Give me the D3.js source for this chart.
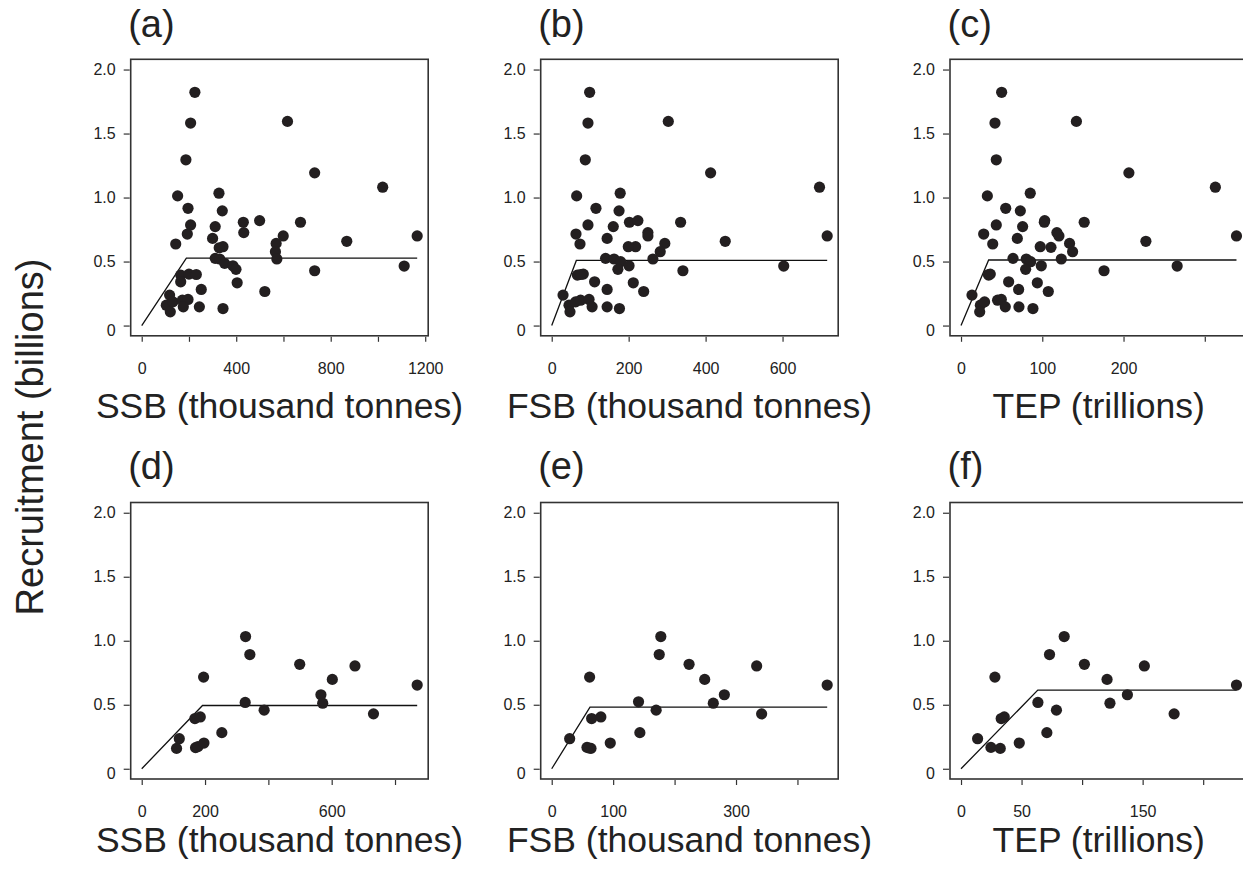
<!DOCTYPE html>
<html><head><meta charset="utf-8">
<script src="https://cdn.jsdelivr.net/npm/d3@7"></script>
<style>
html,body{margin:0;padding:0;background:#fff;}
svg{display:block;font-family:"Liberation Sans",Arial,Helvetica,sans-serif;}
</style></head>
<body>
<svg id="chart" width="1243" height="869"></svg>
<script>
// ---- Data ----
const panelLabels = ["(a)","(b)","(c)","(d)","(e)","(f)"];
const xTitles = ["SSB (thousand tonnes)","FSB (thousand tonnes)","TEP (trillions)",
                 "SSB (thousand tonnes)","FSB (thousand tonnes)","TEP (trillions)"];
const yTitle = "Recruitment (billions)";
const yTicks = [0,0.5,1.0,1.5,2.0];
const yTickLabels = ["0","0.5","1.0","1.5","2.0"];

const xA = [225,207,617,187,732,1020,152,327,196,341,430,499,207,311,672,193,432,300,599,1166,868,144,344,328,569,566,572,311,330,351,386,399,732,1111,165,200,231,165,404,252,521,118,104,132,172,196,176,244,344,121];
const yA = [1.822,1.582,1.595,1.295,1.193,1.081,1.013,1.034,0.916,0.896,0.807,0.820,0.786,0.773,0.807,0.715,0.726,0.681,0.700,0.700,0.658,0.637,0.616,0.608,0.642,0.577,0.520,0.525,0.520,0.486,0.467,0.439,0.428,0.465,0.394,0.402,0.399,0.342,0.334,0.282,0.266,0.238,0.159,0.185,0.198,0.204,0.146,0.146,0.133,0.107];

const xB = [98.6,94.2,303,87.3,413,696,64.8,178,115,175,202,224,94.2,160,335,63.1,250,144,250,716,451,73.5,218,199,294,282,263,140,162,179,201,172,341,603,66.6,82.1,75,111.5,212,144,239,29.4,45,62,75,97,105,144,176,47.5];
const yB = [1.822,1.582,1.595,1.295,1.193,1.081,1.013,1.034,0.916,0.896,0.807,0.820,0.786,0.773,0.807,0.715,0.726,0.681,0.700,0.700,0.658,0.637,0.616,0.616,0.642,0.577,0.520,0.525,0.520,0.499,0.467,0.439,0.428,0.465,0.394,0.402,0.399,0.342,0.334,0.282,0.266,0.238,0.159,0.185,0.198,0.204,0.146,0.146,0.133,0.107];

const xC = [50,41.8,142,43.4,206.6,313,32.4,85.2,55,73,102.5,103,43.4,75.8,151.6,27.9,118,69.3,120.5,339,227.5,39,110.7,97.5,133.6,137.3,123.4,64,80.3,85.7,98.8,79.5,176,266,34,36,34,58.6,93.9,70.9,107.4,13.5,23.8,29,45,49.6,54.5,71.3,88.5,23];
const yC = [1.822,1.582,1.595,1.295,1.193,1.081,1.013,1.034,0.916,0.896,0.807,0.820,0.786,0.773,0.807,0.715,0.726,0.681,0.700,0.700,0.658,0.637,0.611,0.616,0.642,0.577,0.520,0.525,0.520,0.499,0.467,0.439,0.428,0.465,0.394,0.402,0.399,0.342,0.334,0.282,0.266,0.238,0.159,0.185,0.198,0.204,0.146,0.146,0.133,0.107];

const xD = [328,341.5,499,673.5,195.4,602,870,566,571.6,326.8,386.7,732,168,185,253,118.7,110,170,177.6,196.5];
const yD = [1.033,0.892,0.816,0.803,0.716,0.698,0.654,0.578,0.512,0.518,0.458,0.429,0.392,0.405,0.282,0.235,0.159,0.165,0.173,0.201];

const xE = [177.6,175,223.6,333.6,61.7,249,448.4,281,263,141.3,170,341.7,65,80,143.5,29.2,57.4,63.9,61,95.3];
const yE = [1.033,0.892,0.816,0.803,0.716,0.698,0.654,0.578,0.512,0.523,0.458,0.429,0.392,0.405,0.282,0.235,0.167,0.159,0.162,0.201];

const xF = [85.2,73.1,101.9,151.4,28,120.6,227.5,137.4,123,63.5,78.8,176,33.2,35.7,70.9,13.7,24.7,32.4,48.1];
const yF = [1.033,0.892,0.816,0.803,0.716,0.698,0.654,0.578,0.512,0.518,0.458,0.429,0.392,0.405,0.282,0.235,0.167,0.159,0.201];

// hockey-stick fit: breakpoint x, plateau y
const breakX = [189,64,34,192,62.3,63.4];
const breakY = [0.527,0.509,0.512,0.494,0.481,0.614];

const xTickVals = [[0,200,400,600,800,1000,1200],[0,200,400,600],[0,100,200,300],
                   [0,200,400,600,800],[0,100,200,300,400],[0,50,100,150,200]];
const xTickShown = [[0,400,800,1200],[0,200,400,600],[0,100,200],
                    [0,200,600],[0,100,300],[0,50,150]];

const xs = [xA,xB,xC,xD,xE,xF];
const ys = [yA,yB,yC,yD,yE,yF];

// ---- Layout ----
const svg = d3.select("#chart");
const colLeft = [130.7,540.7,950];
const rowTop = [59.3,502.5];
const W = 297.5, H = 276.5;
const titleBase = [37,479];
const xTitleBase = [418,852];
const ink = "#231f20";

for (let p=0;p<6;p++){
  const r = Math.floor(p/3), c = p%3;
  const L = colLeft[c], T = rowTop[r];
  const xv = xs[p], yv = ys[p];
  const xmax = d3.max(xv);
  const x = d3.scaleLinear().domain([-0.04*xmax, 1.04*xmax]).range([L, L+W]);
  const y = d3.scaleLinear().domain([-0.08, 2.08]).range([T+H, T]);
  const g = svg.append("g");

  // fitted line
  const linePts = [[0,0],[breakX[p],breakY[p]],[xmax,breakY[p]]];
  g.append("path")
    .attr("d", d3.line().x(d=>x(d[0])).y(d=>y(d[1]))(linePts))
    .attr("fill","none").attr("stroke","#111").attr("stroke-width",1.3);

  // points
  g.selectAll("circle").data(xv.map((v,i)=>[v,yv[i]])).join("circle")
    .attr("cx",d=>x(d[0])).attr("cy",d=>y(d[1])).attr("r",5.6)
    .attr("fill",ink);

  // box
  g.append("rect").attr("x",L).attr("y",T).attr("width",W).attr("height",H)
    .attr("fill","none").attr("stroke","#333").attr("stroke-width",1.6);

  // x axis
  const shown = new Set(xTickShown[p]);
  const xa = g.append("g").attr("transform",`translate(0,${T+H+1})`)
    .call(d3.axisBottom(x).tickValues(xTickVals[p]).tickSize(5).tickPadding(21)
      .tickFormat(d=>shown.has(d)?String(d):""));
  xa.select(".domain").remove();
  xa.selectAll("line").attr("stroke","#333").attr("stroke-width",1.2);
  xa.selectAll("text").attr("font-size",16).attr("fill","#222")
    .attr("font-family","'Liberation Sans',Arial,sans-serif");

  // y axis
  const ya = g.append("g").attr("transform",`translate(${L-1},0)`)
    .call(d3.axisLeft(y).tickValues(yTicks).tickSize(6).tickPadding(8)
      .tickFormat((d,i)=>yTickLabels[i]));
  ya.select(".domain").remove();
  ya.selectAll("line").attr("stroke","#333").attr("stroke-width",1.2);
  ya.selectAll("text").attr("font-size",16).attr("fill","#222")
    .attr("font-family","'Liberation Sans',Arial,sans-serif");
  ya.selectAll(".tick").filter(d=>d===0).select("text").attr("dy","0.62em");

  // panel label
  svg.append("text").attr("x",L-2.5).attr("y",titleBase[r])
    .attr("font-size",38).attr("fill","#222").text(panelLabels[p]);

  // x title
  svg.append("text").attr("x",L+W/2).attr("y",xTitleBase[r])
    .attr("text-anchor","middle").attr("font-size",35.5).attr("fill","#222")
    .text(xTitles[p]);
}

// y title
svg.append("text")
  .attr("transform","translate(43,437) rotate(-90)")
  .attr("text-anchor","middle").attr("font-size",38).attr("fill","#222")
  .text(yTitle);
</script>
</body></html>
